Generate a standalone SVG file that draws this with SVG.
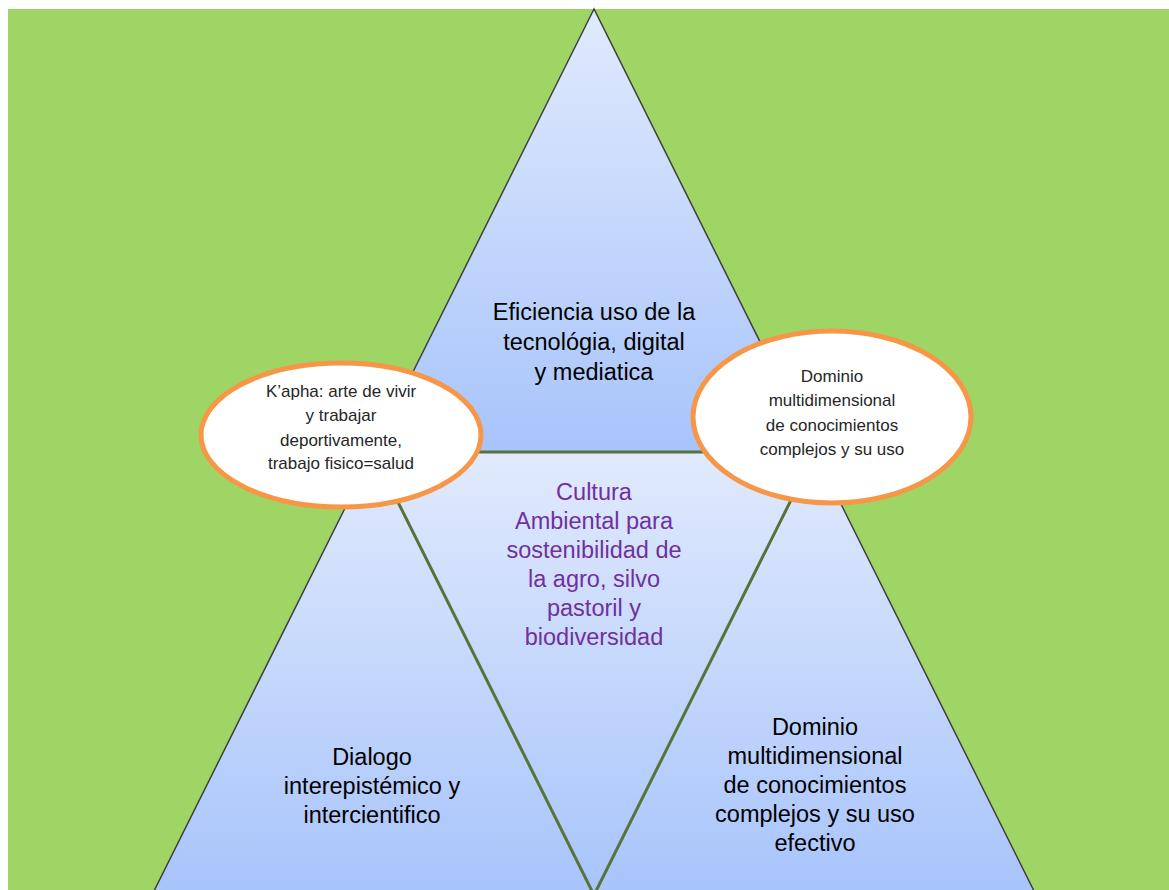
<svg xmlns="http://www.w3.org/2000/svg" width="1169" height="890" viewBox="0 0 1169 890">
  <defs>
    <linearGradient id="blueGrad" x1="0" y1="0" x2="0" y2="1">
      <stop offset="0" stop-color="#e1eafd"/>
      <stop offset="1" stop-color="#a7c4fb"/>
    </linearGradient>
    <style>
      .tri { fill: url(#blueGrad); stroke: #404040; stroke-width: 1.5; stroke-linejoin: miter; }
      .inv { fill: url(#blueGrad); stroke: #56733a; stroke-width: 3; }
      .oval { fill: #ffffff; stroke: #f79646; stroke-width: 5; }
      .big { font-family: "Liberation Sans", Arial, sans-serif; font-size: 23.5px; fill: #000000; text-anchor: middle; }
      .purple { font-family: "Liberation Sans", Arial, sans-serif; font-size: 23.5px; fill: #7030a0; text-anchor: middle; }
      .small { font-family: "Liberation Sans", Arial, sans-serif; font-size: 17px; fill: #262626; text-anchor: middle; }
    </style>
  </defs>

  <rect x="0" y="0" width="1169" height="890" fill="#ffffff"/>
  <rect x="8" y="9" width="1161" height="881" fill="#9ed564"/>

  <g id="left-triangle">
    <polygon class="tri" points="373,452 152,895 594,895"/>
  </g>
  <g id="right-triangle">
    <polygon class="tri" points="815,452 594,895 1036,895"/>
  </g>
  <g id="top-triangle">
    <polygon class="tri" points="594,9 373,452 815,452"/>
  </g>
  <g id="center-triangle">
    <polygon class="inv" points="373,452 815,452 594,895"/>
  </g>

  <g id="top-text">
    <text class="big" x="594" y="320">Eficiencia uso de la</text>
    <text class="big" x="594" y="350">tecnológia, digital</text>
    <text class="big" x="594" y="380">y mediatica</text>
  </g>

  <g id="center-text">
    <text class="purple" x="594" y="500">Cultura</text>
    <text class="purple" x="594" y="529">Ambiental para</text>
    <text class="purple" x="594" y="558">sostenibilidad de</text>
    <text class="purple" x="594" y="587">la agro, silvo</text>
    <text class="purple" x="594" y="616">pastoril y</text>
    <text class="purple" x="594" y="645">biodiversidad</text>
  </g>

  <g id="left-text">
    <text class="big" x="372" y="765">Dialogo</text>
    <text class="big" x="372" y="794">interepistémico y</text>
    <text class="big" x="372" y="823">intercientifico</text>
  </g>

  <g id="right-text">
    <text class="big" x="815" y="735">Dominio</text>
    <text class="big" x="815" y="764">multidimensional</text>
    <text class="big" x="815" y="793">de conocimientos</text>
    <text class="big" x="815" y="822">complejos y su uso</text>
    <text class="big" x="815" y="851">efectivo</text>
  </g>

  <g id="left-ellipse">
    <ellipse class="oval" cx="341" cy="435" rx="140" ry="72"/>
    <text class="small" x="341" y="397">K’apha: arte de vivir</text>
    <text class="small" x="341" y="421">y trabajar</text>
    <text class="small" x="341" y="446">deportivamente,</text>
    <text class="small" x="341" y="469">trabajo fisico=salud</text>
  </g>

  <g id="right-ellipse">
    <ellipse class="oval" cx="832" cy="417" rx="139" ry="86"/>
    <text class="small" x="832" y="382">Dominio</text>
    <text class="small" x="832" y="406">multidimensional</text>
    <text class="small" x="832" y="431">de conocimientos</text>
    <text class="small" x="832" y="455">complejos y su uso</text>
  </g>
</svg>
